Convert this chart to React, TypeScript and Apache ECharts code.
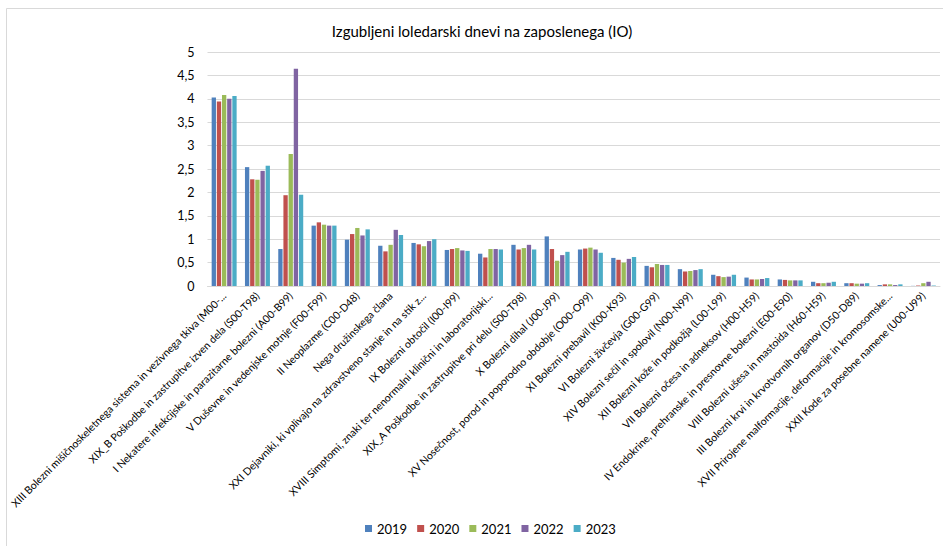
import React, { useEffect, useRef } from "react";
import * as echarts from "echarts";

const categories = [
  "XIII Bolezni mišičnoskeletnega sistema in vezivnega tkiva (M00-...",
  "XIX_B Poškodbe in zastrupitve izven dela (S00-T98)",
  "I Nekatere infekcijske in parazitarne bolezni (A00-B99)",
  "V Duševne in vedenjske motnje (F00-F99)",
  "II Neoplazme (C00-D48)",
  "Nega družinskega člana",
  "XXI Dejavniki, ki vplivajo na zdravstveno stanje in na stik z...",
  "IX Bolezni obtočil (I00-I99)",
  "XVIII Simptomi, znaki ter nenormalni klinični in laboratorijski...",
  "XIX_A Poškodbe in zastrupitve pri delu (S00-T98)",
  "X Bolezni dihal (J00-J99)",
  "XV Nosečnost, porod in poporodno obdobje (O00-O99)",
  "XI Bolezni prebavil (K00-K93)",
  "VI Bolezni živčevja (G00-G99)",
  "XIV Bolezni sečil in spolovil (N00-N99)",
  "XII Bolezni kože in podkožja (L00-L99)",
  "VII Bolezni očesa in adneksov (H00-H59)",
  "IV Endokrine, prehranske in presnovne bolezni (E00-E90)",
  "VIII Bolezni ušesa in mastoida (H60-H59)",
  "III Bolezni krvi in krvotvornih organov (D50-D89)",
  "XVII Prirojene malformacije, deformacije in kromosomske...",
  "XXII Kode za posebne namene (U00-U99)",
];

const years = ["2019", "2020", "2021", "2022", "2023"];

const v2019 = [4.03, 2.54, 0.79, 1.29, 0.99, 0.86, 0.92, 0.77, 0.69, 0.88, 1.06, 0.78, 0.6, 0.43, 0.36, 0.24, 0.18, 0.14, 0.09, 0.06, 0.02, 0.003];
const v2020 = [3.94, 2.28, 1.94, 1.36, 1.11, 0.74, 0.89, 0.79, 0.61, 0.78, 0.79, 0.8, 0.56, 0.4, 0.31, 0.21, 0.14, 0.13, 0.06, 0.06, 0.035, 0.01];
const v2021 = [4.08, 2.27, 2.82, 1.31, 1.24, 0.88, 0.85, 0.81, 0.79, 0.81, 0.54, 0.82, 0.5, 0.47, 0.32, 0.19, 0.14, 0.12, 0.06, 0.05, 0.035, 0.06];
const v2022 = [4.0, 2.46, 4.64, 1.29, 1.08, 1.2, 0.96, 0.76, 0.79, 0.88, 0.66, 0.78, 0.58, 0.45, 0.34, 0.2, 0.15, 0.12, 0.07, 0.05, 0.02, 0.09];
const v2023 = [4.06, 2.57, 1.95, 1.29, 1.21, 1.09, 1.0, 0.75, 0.78, 0.78, 0.73, 0.71, 0.62, 0.45, 0.36, 0.24, 0.17, 0.12, 0.09, 0.06, 0.035, 0.01];

const seriesValues = [v2019, v2020, v2021, v2022, v2023];
const colors = ["#4F81BD", "#C0504D", "#9BBB59", "#8064A2", "#4BACC6"];

const yTicks = { min: 0, max: 5, interval: 0.5 };

const FONT = "Lato, 'Open Sans', sans-serif";

export default function App() {
  const ref = useRef<HTMLDivElement>(null);
  useEffect(() => {
    document.body.style.margin = "0";
    const chart = echarts.init(ref.current!, null, { renderer: "svg" });
    chart.setOption({
      animation: false,
      backgroundColor: "#ffffff",
      textStyle: { fontFamily: FONT },
      title: {
        text: "Izgubljeni loledarski dnevi na zaposlenega (IO)",
        left: 477,
        textAlign: "center",
        top: 18,
        textStyle: { fontSize: 15, fontWeight: "normal", color: "#000", fontFamily: FONT },
      },
      graphic: [
        {
          type: "rect",
          shape: { x: 6.5, y: 8.5, width: 960, height: 560 },
          style: { fill: "none", stroke: "#d9d9d9", lineWidth: 1 },
          silent: true,
        },
      ],
      legend: {
        bottom: 6,
        left: 360,
        itemWidth: 7,
        itemHeight: 7,
        itemGap: 10,
        icon: "rect",
        textStyle: { fontSize: 13, color: "#000", fontFamily: FONT },
        data: years,
      },
      grid: { left: 207.5, right: 3, top: 52, bottom: 260, containLabel: false },
      xAxis: {
        type: "category",
        data: categories,
        axisLine: { show: true, lineStyle: { color: "#d9d9d9", width: 1 } },
        axisTick: { show: false },
        axisLabel: {
          interval: 0,
          rotate: 45,
          fontSize: 10.5,
          color: "#000",
          margin: 8,
          fontFamily: FONT,
        },
      },
      yAxis: {
        type: "value",
        min: yTicks.min,
        max: yTicks.max,
        interval: yTicks.interval,
        axisLine: { show: false },
        axisTick: { show: false },
        splitLine: { lineStyle: { color: "#d9d9d9", width: 1 } },
        axisLabel: {
          fontSize: 12.5,
          color: "#000",
          margin: 13,
          fontFamily: FONT,
          formatter: (v: number) => String(v).replace(".", ","),
        },
      },
      series: years.map((y, i) => ({
        name: y,
        type: "bar",
        data: seriesValues[i],
        barGap: "20%",
        barCategoryGap: "25%",
        itemStyle: { color: colors[i] },
      })),
    });
    return () => chart.dispose();
  }, []);
  return <div ref={ref} style={{ width: 943, height: 546 }} />;
}
